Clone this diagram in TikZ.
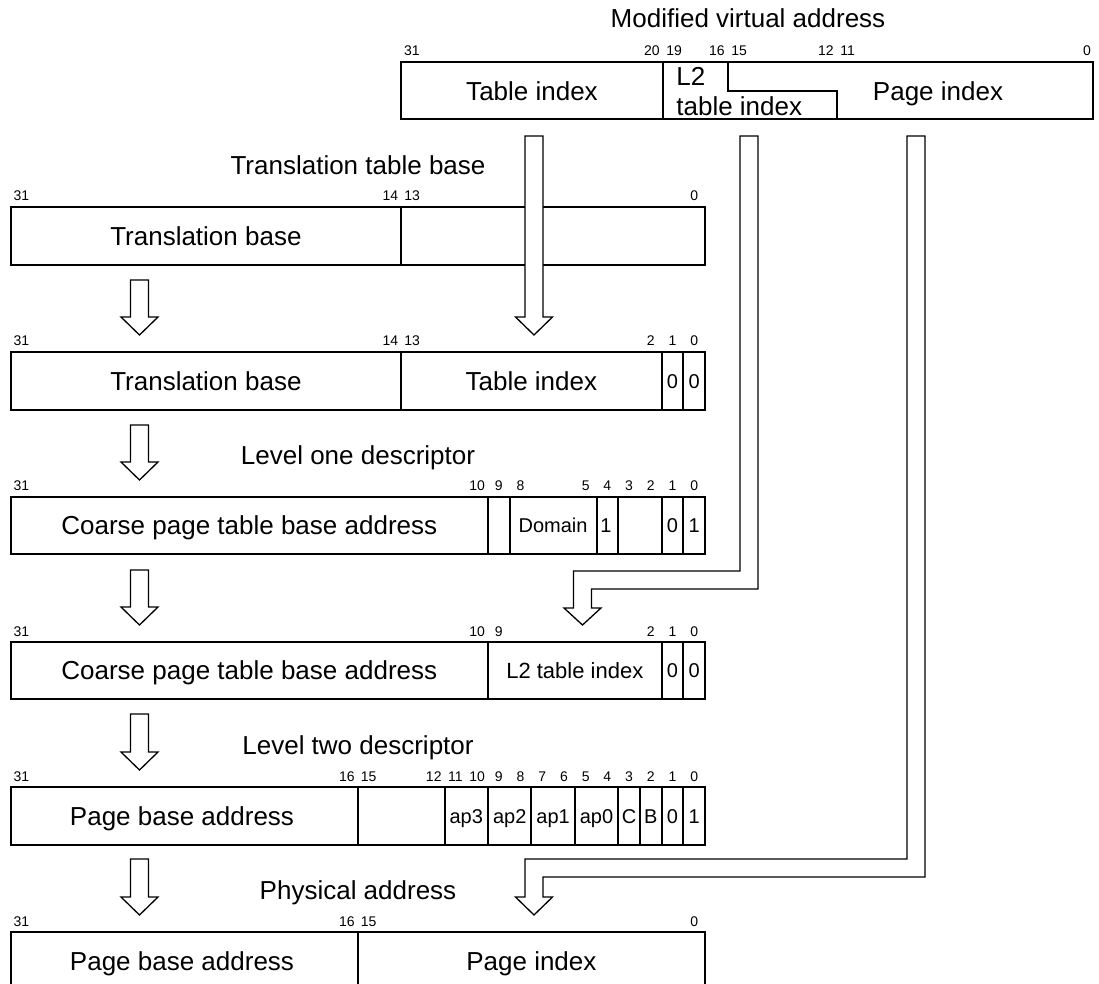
\documentclass[tikz,border=0pt]{standalone}
\usepackage{fontspec}
\setmainfont{Liberation Sans}
\newcommand{\bitlab}[2]{\node[bitlbl] (b#1at#2) at ({705-21.7*(#1+0.5)},#2) {#1};}
\newcommand{\vdiv}[3]{\draw[regline] ({705-21.7*(#1)},#2) -- ({705-21.7*(#1)},#3);}
\newcommand{\blockdown}[4]{\draw[arrline] ({#1-9},#2) -- ({#1-9},#3) -- ({#1-18.5},#3) -- (#1,#4) -- ({#1+18.5},#3) -- ({#1+9},#3) -- ({#1+9},#2) -- cycle;}
\begin{document}
\begin{tikzpicture}[x=0.5pt,y=-0.5pt,
  regline/.style={line width=1pt},
  arrline/.style={line width=0.65pt,fill=white,line join=miter},
  big/.style={font=\fontsize{13}{15}\selectfont,text height=9.3pt,text depth=0pt,inner sep=0pt},
  mid/.style={font=\fontsize{10}{12}\selectfont,text height=7.2pt,text depth=0pt,inner sep=0pt},
  midl/.style={font=\fontsize{11}{13}\selectfont,text height=7.9pt,text depth=0pt,inner sep=0pt},
  bitlbl/.style={font=\fontsize{7}{8}\selectfont,text height=5pt,text depth=0pt,inner sep=0pt}]
\useasboundingbox (0,0) rectangle (1099,984);

% ---- Modified virtual address
\node[big] (mva) at (748,18) {Modified virtual address};
\draw[regline] (401,62) rectangle (1093,119);
\draw[regline] (663,62) -- (663,119);
\draw[regline] (728,62) -- (728,91) -- (837,91) -- (837,119);
\node[big] (vti) at (532,91) {Table index};
\node[big,anchor=west] (vl2) at (676,76) {L2};
\node[big,anchor=west] (vl2b) at (676,106) {table index};
\node[big] (vpi) at (938,91) {Page index};
\node[bitlbl] (v31) at (412,51) {31};
\node[bitlbl,anchor=east] (v20) at (660,51) {20};
\node[bitlbl,anchor=west] (v19) at (666,51) {19};
\node[bitlbl,anchor=east] (v16) at (725,51) {16};
\node[bitlbl,anchor=west] (v15) at (731,51) {15};
\node[bitlbl,anchor=east] (v12) at (834,51) {12};
\node[bitlbl,anchor=west] (v11) at (840,51) {11};
\node[bitlbl] (v0) at (1087,51) {0};

% ---- Translation table base
\node[big] (ttb) at (358,165) {Translation table base};
\draw[regline] (10.6,207) rectangle (705,265);
\vdiv{14}{207}{265}
\node[big] (r2a) at (205.9,236) {Translation base};
\bitlab{31}{196}\bitlab{14}{196}\bitlab{13}{196}\bitlab{0}{196}

% ---- Translation base + table index
\draw[regline] (10.6,352) rectangle (705,410);
\vdiv{14}{352}{410}\vdiv{2}{352}{410}\vdiv{1}{352}{410}
\node[big] (r3a) at (205.9,381) {Translation base};
\node[big] (r3b) at (531.4,381) {Table index};
\node[mid] (r3c) at (672.45,381) {0};
\node[mid] (r3d) at (694.15,381) {0};
\bitlab{31}{341}\bitlab{14}{341}\bitlab{13}{341}\bitlab{2}{341}\bitlab{1}{341}\bitlab{0}{341}

% ---- Level one descriptor
\node[big] (l1d) at (358,455) {Level one descriptor};
\draw[regline] (10.6,497) rectangle (705,554);
\vdiv{10}{497}{554}\vdiv{9}{497}{554}\vdiv{5}{497}{554}\vdiv{4}{497}{554}\vdiv{2}{497}{554}\vdiv{1}{497}{554}
\node[big] (r4a) at (249.3,525.5) {Coarse page table base address};
\node[mid] (r4b) at (553.1,525.5) {Domain};
\node[mid,anchor=west] (r4c) at (600,525.5) {1};
\node[mid] (r4d) at (672.45,525.5) {0};
\node[mid] (r4e) at (694.15,525.5) {1};
\bitlab{31}{486}\bitlab{10}{486}\bitlab{9}{486}\bitlab{8}{486}\bitlab{5}{486}\bitlab{4}{486}\bitlab{3}{486}\bitlab{2}{486}\bitlab{1}{486}\bitlab{0}{486}

% ---- Coarse page table base + L2 index
\draw[regline] (10.6,642) rectangle (705,699);
\vdiv{10}{642}{699}\vdiv{2}{642}{699}\vdiv{1}{642}{699}
\node[big] (r5a) at (249.3,670.5) {Coarse page table base address};
\node[midl] (r5b) at (574.8,670.5) {L2 table index};
\node[mid] (r5c) at (672.45,670.5) {0};
\node[mid] (r5d) at (694.15,670.5) {0};
\bitlab{31}{631}\bitlab{10}{631}\bitlab{9}{631}\bitlab{2}{631}\bitlab{1}{631}\bitlab{0}{631}

% ---- Level two descriptor
\node[big] (l2d) at (358,745) {Level two descriptor};
\draw[regline] (10.6,787) rectangle (705,845);
\vdiv{16}{787}{845}\vdiv{12}{787}{845}\vdiv{10}{787}{845}\vdiv{8}{787}{845}\vdiv{6}{787}{845}\vdiv{4}{787}{845}\vdiv{3}{787}{845}\vdiv{2}{787}{845}\vdiv{1}{787}{845}
\node[big] (r6a) at (182,816) {Page base address};
\node[mid] (r6b) at (466.3,816) {ap3};
\node[mid] (r6c) at (509.7,816) {ap2};
\node[mid] (r6d) at (553.1,816) {ap1};
\node[mid] (r6e) at (596.5,816) {ap0};
\node[mid] (r6f) at (629.05,816) {C};
\node[mid] (r6g) at (650.75,816) {B};
\node[mid] (r6h) at (672.45,816) {0};
\node[mid] (r6i) at (694.15,816) {1};
\foreach \b in {31,16,15,12,11,10,9,8,7,6,5,4,3,2,1,0}{\bitlab{\b}{776}}

% ---- Physical address
\node[big] (pha) at (358,890) {Physical address};
\draw[regline] (10.6,932) rectangle (705,990);
\vdiv{16}{932}{990}
\node[big] (r7a) at (182,961) {Page base address};
\node[big] (r7b) at (531.4,961) {Page index};
\bitlab{31}{921}\bitlab{16}{921}\bitlab{15}{921}\bitlab{0}{921}

% ---- left block arrows
\blockdown{139.5}{280}{317}{335}
\blockdown{139.5}{425}{462}{480}
\blockdown{139.5}{570}{607}{625}
\blockdown{139.5}{714}{752}{770}
\blockdown{139.5}{859}{897}{915}

% ---- arrows from the virtual address
\blockdown{534}{136}{317}{335}
\draw[arrline] (740,136) -- (740,571) -- (573.5,571) -- (573.5,608) -- (564,608) -- (582.5,625) -- (601,608) -- (591.5,608) -- (591.5,589) -- (758,589) -- (758,136) -- cycle;
\draw[arrline] (907,136) -- (907,859) -- (525,859) -- (525,897) -- (515.5,897) -- (534,915) -- (552.5,897) -- (543,897) -- (543,877) -- (925,877) -- (925,136) -- cycle;
\end{tikzpicture}
\end{document}
